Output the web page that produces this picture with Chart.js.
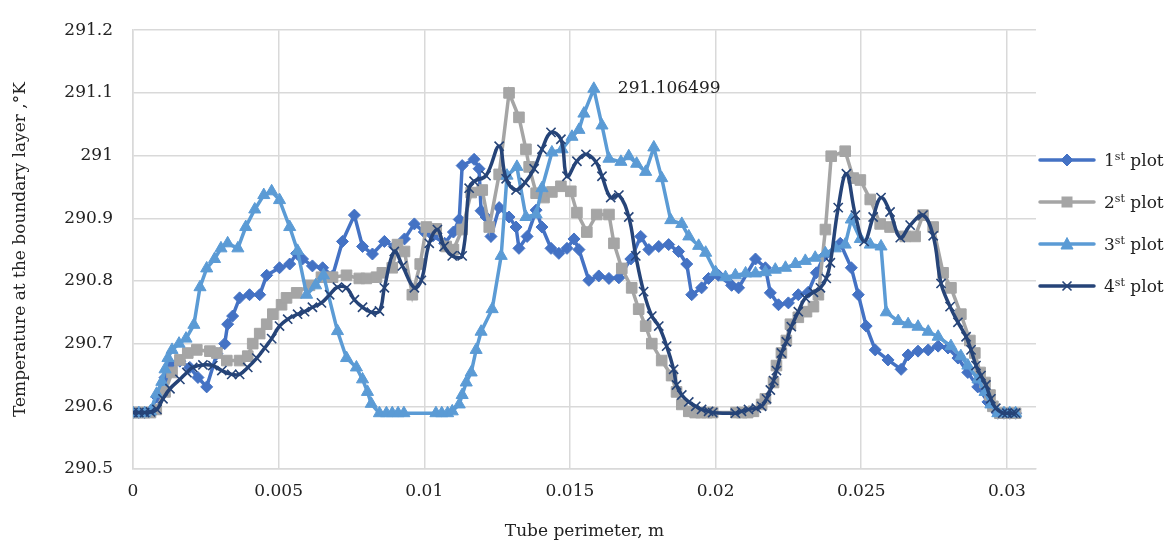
<!DOCTYPE html>
<html>
<head>
<meta charset="utf-8">
<script src="https://cdn.jsdelivr.net/npm/chart.js@4.4.0/dist/chart.umd.min.js"></script>
<style>
body { margin: 0; background: #fff; }
#wrap { position: relative; width: 1176px; height: 546px; }
#legend { position: absolute; left: 1038px; top: 139px; font-family: 'DejaVu Serif', serif; font-size: 17px; color: #222; }
.item { display: flex; align-items: center; height: 42px; white-space: nowrap; }
.item svg { margin-right: 8px; }
sup { font-size: 11px; vertical-align: 6px; line-height: 0; }
</style>
</head>
<body>
<div id="wrap">
  <canvas id="c" width="1176" height="546"></canvas>
  <div id="legend"></div>
</div>
<script>
'use strict'

// [tube perimeter (m), temperature (K)]
const plot1 = [
    [0, 290.59], [0.0002, 290.59], [0.0004, 290.59], [0.0006, 290.592], [0.00082, 290.615], [0.0011, 290.646],
    [0.00134, 290.666], [0.00161, 290.672], [0.00195, 290.662], [0.00223, 290.646], [0.00253, 290.631], [0.00288, 290.684],
    [0.00315, 290.7], [0.00325, 290.731], [0.00342, 290.744], [0.00366, 290.773], [0.004, 290.778], [0.00435, 290.778],
    [0.00459, 290.809], [0.00503, 290.821], [0.00538, 290.827], [0.00562, 290.844], [0.00582, 290.835], [0.00616, 290.824],
    [0.00651, 290.821], [0.00685, 290.808], [0.00719, 290.863], [0.0076, 290.905], [0.00788, 290.855], [0.00822, 290.843],
    [0.00863, 290.863], [0.00897, 290.855], [0.00932, 290.867], [0.00966, 290.891], [0.01, 290.878], [0.0103, 290.872],
    [0.0107, 290.86], [0.011, 290.878], [0.0112, 290.898], [0.0113, 290.984], [0.01171, 290.994], [0.01188, 290.979],
    [0.01195, 290.912], [0.01212, 290.902], [0.01229, 290.871], [0.01257, 290.917], [0.01291, 290.902], [0.01315, 290.886],
    [0.01325, 290.852], [0.01353, 290.871], [0.01384, 290.913], [0.01404, 290.886], [0.01435, 290.852], [0.01462, 290.844],
    [0.0149, 290.852], [0.01514, 290.867], [0.01531, 290.85], [0.01565, 290.801], [0.01599, 290.808], [0.01634, 290.804],
    [0.01668, 290.805], [0.01709, 290.835], [0.01743, 290.871], [0.01771, 290.85], [0.01805, 290.855], [0.01839, 290.858],
    [0.01873, 290.847], [0.01901, 290.827], [0.01918, 290.778], [0.01952, 290.789], [0.01976, 290.804], [0.0201, 290.809],
    [0.02055, 290.793], [0.02079, 290.789], [0.02137, 290.835], [0.02171, 290.821], [0.02188, 290.781], [0.02216, 290.762],
    [0.0225, 290.765], [0.02284, 290.778], [0.02318, 290.782], [0.02346, 290.813], [0.02373, 290.84], [0.02428, 290.86],
    [0.02466, 290.821], [0.0249, 290.778], [0.02517, 290.728], [0.02548, 290.69], [0.02592, 290.674], [0.02637, 290.659],
    [0.02661, 290.682], [0.02695, 290.688], [0.0273, 290.69], [0.02764, 290.696], [0.02798, 290.693], [0.02832, 290.677],
    [0.02866, 290.654], [0.029, 290.631], [0.02935, 290.607], [0.02969, 290.589], [0.0299, 290.589], [0.0301, 290.589],
    [0.0303, 290.589]
]

const plot2 = [
    [0, 290.59], [0.0002, 290.59], [0.0004, 290.59], [0.0006, 290.59], [0.0008, 290.595], [0.0011, 290.623],
    [0.00134, 290.654], [0.00161, 290.674], [0.00188, 290.685], [0.00219, 290.69], [0.00264, 290.688], [0.00288, 290.685],
    [0.00322, 290.673], [0.00366, 290.673], [0.00394, 290.68], [0.00411, 290.7], [0.00435, 290.716], [0.00459, 290.731],
    [0.0048, 290.747], [0.0051, 290.762], [0.00527, 290.773], [0.00562, 290.781], [0.00606, 290.793], [0.00647, 290.806],
    [0.00685, 290.806], [0.00733, 290.809], [0.00777, 290.804], [0.00801, 290.804], [0.00836, 290.806], [0.00856, 290.813],
    [0.0089, 290.821], [0.00908, 290.858], [0.00932, 290.847], [0.00959, 290.778], [0.00986, 290.827], [0.01007, 290.886],
    [0.01041, 290.883], [0.01075, 290.855], [0.011, 290.85], [0.0113, 290.882], [0.01161, 290.941], [0.01199, 290.945],
    [0.01223, 290.886], [0.01257, 290.97], [0.01291, 291.1], [0.01325, 291.061], [0.01349, 291.01], [0.0136, 290.982],
    [0.01384, 290.94], [0.01411, 290.933], [0.01438, 290.942], [0.01469, 290.951], [0.01503, 290.943], [0.01524, 290.909],
    [0.01558, 290.878], [0.01592, 290.906], [0.01634, 290.906], [0.01651, 290.86], [0.01678, 290.82], [0.01712, 290.789],
    [0.01736, 290.755], [0.0176, 290.728], [0.01781, 290.7], [0.01815, 290.673], [0.01849, 290.649], [0.01866, 290.623],
    [0.01884, 290.603], [0.01908, 290.592], [0.0193, 290.59], [0.0195, 290.59], [0.0197, 290.59], [0.0199, 290.59],
    [0.0207, 290.59], [0.0209, 290.59], [0.0211, 290.59], [0.0213, 290.592], [0.02158, 290.603], [0.02171, 290.612],
    [0.02199, 290.638], [0.02209, 290.665], [0.02226, 290.685], [0.02243, 290.705], [0.02257, 290.731], [0.02284, 290.742],
    [0.02312, 290.751], [0.02336, 290.759], [0.02353, 290.778], [0.02377, 290.882], [0.02397, 290.999], [0.02445, 291.007],
    [0.02473, 290.964], [0.02497, 290.961], [0.02531, 290.93], [0.02565, 290.891], [0.02599, 290.886], [0.02651, 290.871],
    [0.02685, 290.871], [0.02712, 290.905], [0.02747, 290.886], [0.02781, 290.813], [0.02808, 290.789], [0.02842, 290.747],
    [0.02873, 290.705], [0.0289, 290.685], [0.02908, 290.654], [0.02925, 290.638], [0.02942, 290.618], [0.02952, 290.6],
    [0.02976, 290.589], [0.0299, 290.589], [0.0301, 290.589], [0.0303, 290.589]
]

const plot3 = [
    [0, 290.589], [0.0002, 290.589], [0.0004, 290.589], [0.0006, 290.592], [0.00081, 290.62], [0.00099, 290.639],
    [0.0011, 290.659], [0.0012, 290.677], [0.00134, 290.69], [0.00158, 290.7], [0.00182, 290.708], [0.00209, 290.73],
    [0.0023, 290.79], [0.00253, 290.82], [0.0028, 290.835], [0.00302, 290.852], [0.00325, 290.86], [0.0036, 290.852],
    [0.00387, 290.886], [0.00418, 290.914], [0.00449, 290.937], [0.00476, 290.943], [0.00503, 290.929], [0.00538, 290.886],
    [0.00565, 290.848], [0.00596, 290.778], [0.00627, 290.793], [0.00654, 290.809], [0.00702, 290.72], [0.00733, 290.677],
    [0.00767, 290.662], [0.00788, 290.643], [0.00805, 290.623], [0.00818, 290.604], [0.00846, 290.589], [0.0087, 290.589],
    [0.0089, 290.589], [0.0091, 290.589], [0.0093, 290.589], [0.0104, 290.589], [0.0106, 290.589], [0.0108, 290.589],
    [0.01096, 290.592], [0.0112, 290.603], [0.0113, 290.618], [0.01144, 290.638], [0.01161, 290.654], [0.01178, 290.69],
    [0.01195, 290.719], [0.01233, 290.755], [0.01264, 290.84], [0.01284, 290.968], [0.01318, 290.982], [0.01349, 290.902],
    [0.01384, 290.906], [0.01404, 290.948], [0.01438, 291.005], [0.01473, 291.01], [0.01507, 291.03], [0.01531, 291.041],
    [0.01548, 291.067], [0.01582, 291.106499], [0.0161, 291.048], [0.01634, 290.995], [0.01675, 290.99], [0.01702, 290.999],
    [0.01729, 290.987], [0.0176, 290.974], [0.01788, 291.013], [0.01815, 290.964], [0.01846, 290.897], [0.01884, 290.891],
    [0.01908, 290.871], [0.01942, 290.856], [0.01966, 290.845], [0.02, 290.814], [0.02034, 290.806], [0.02068, 290.809],
    [0.02103, 290.812], [0.02137, 290.812], [0.02171, 290.814], [0.02205, 290.818], [0.0224, 290.821], [0.02274, 290.827],
    [0.02308, 290.832], [0.02342, 290.837], [0.02377, 290.844], [0.02411, 290.852], [0.02445, 290.858], [0.02466, 290.898],
    [0.02497, 290.867], [0.02531, 290.858], [0.02568, 290.855], [0.02586, 290.75], [0.02627, 290.736], [0.02661, 290.731],
    [0.02695, 290.727], [0.0273, 290.719], [0.02764, 290.711], [0.02808, 290.696], [0.02842, 290.68], [0.02866, 290.665],
    [0.02901, 290.643], [0.02925, 290.623], [0.02945, 290.603], [0.02969, 290.589], [0.0299, 290.589], [0.0301, 290.589],
    [0.0303, 290.589]
]

const plot4 = [
    [0, 290.59], [0.0002, 290.59], [0.0004, 290.59], [0.0006, 290.591], [0.00082, 290.595], [0.00103, 290.612],
    [0.00127, 290.628], [0.00161, 290.643], [0.00185, 290.654], [0.00205, 290.662], [0.0024, 290.666], [0.00274, 290.665],
    [0.00305, 290.657], [0.00339, 290.651], [0.00366, 290.651], [0.00394, 290.662], [0.00425, 290.677], [0.00452, 290.693],
    [0.00476, 290.708], [0.00503, 290.728], [0.00531, 290.739], [0.00565, 290.747], [0.00589, 290.751], [0.00616, 290.758],
    [0.00647, 290.765], [0.00675, 290.778], [0.00702, 290.79], [0.00733, 290.789], [0.0076, 290.77], [0.00788, 290.758],
    [0.00818, 290.75], [0.00846, 290.752], [0.00863, 290.789], [0.00897, 290.847], [0.00925, 290.824], [0.00966, 290.789],
    [0.0099, 290.801], [0.01017, 290.86], [0.01045, 290.882], [0.01068, 290.855], [0.01096, 290.84], [0.0113, 290.84],
    [0.01154, 290.948], [0.01171, 290.959], [0.01212, 290.968], [0.01257, 291.015], [0.01281, 290.963], [0.01315, 290.945],
    [0.01346, 290.957], [0.01377, 290.979], [0.01404, 291.01], [0.01435, 291.037], [0.01469, 291.026], [0.0149, 290.967],
    [0.01524, 290.991], [0.01555, 291.002], [0.01589, 290.99], [0.0161, 290.967], [0.0164, 290.933], [0.01668, 290.937],
    [0.01702, 290.902], [0.01726, 290.84], [0.01753, 290.783], [0.01781, 290.744], [0.01805, 290.728], [0.01832, 290.696],
    [0.01856, 290.659], [0.01866, 290.634], [0.01884, 290.618], [0.01908, 290.607], [0.01932, 290.6], [0.01952, 290.595],
    [0.01976, 290.592], [0.0199, 290.59], [0.02068, 290.589], [0.02089, 290.592], [0.02113, 290.595], [0.0214, 290.597],
    [0.02158, 290.6], [0.02175, 290.612], [0.02188, 290.626], [0.02199, 290.641], [0.02209, 290.657], [0.02226, 290.685],
    [0.02243, 290.703], [0.0226, 290.727], [0.02284, 290.751], [0.02308, 290.773], [0.02336, 290.782], [0.0236, 290.789],
    [0.0238, 290.804], [0.02394, 290.829], [0.02421, 290.917], [0.02449, 290.971], [0.0248, 290.905], [0.0251, 290.863],
    [0.02541, 290.902], [0.02568, 290.933], [0.02599, 290.91], [0.02634, 290.869], [0.02668, 290.889], [0.02712, 290.905],
    [0.02747, 290.872], [0.02774, 290.796], [0.02805, 290.759], [0.02832, 290.734], [0.0286, 290.711], [0.02877, 290.69],
    [0.02894, 290.665], [0.02911, 290.649], [0.02928, 290.634], [0.02945, 290.612], [0.02962, 290.597], [0.02986, 290.589],
    [0.03, 290.589], [0.0302, 290.589], [0.0303, 290.589]
]

const seriesNames = ['1', '2', '3', '4']
const seriesColors = ['#4472C4', '#A5A5A5', '#5B9BD5', '#264478']
const xTicks = [0, 0.005, 0.01, 0.015, 0.02, 0.025, 0.03]
const yTicks = [290.5, 290.6, 290.7, 290.8, 290.9, 291, 291.1, 291.2]

const FONT = "'DejaVu Serif', serif"
const TEXT = '#222222'
const GRID = '#d9d9d9'

const toXY = (pairs) => pairs.map((p) => ({ x: p[0], y: p[1] }))

const peakLabel = {
    id: 'peakLabel',
    afterDatasetsDraw: function (chart) {
        const ys = plot3.map((p) => p[1])
        const i = ys.indexOf(Math.max(...ys))
        const pt = chart.getDatasetMeta(2).data[i]
        const ctx = chart.ctx
        ctx.save()
        ctx.font = '17px ' + FONT
        ctx.fillStyle = TEXT
        ctx.textBaseline = 'middle'
        ctx.textAlign = 'left'
        ctx.fillText(String(plot3[i][1]), pt.x + 24, pt.y)
        ctx.restore()
    }
}

const base = (i) => ({
    label: seriesNames[i] + 'st plot',
    borderColor: seriesColors[i],
    backgroundColor: seriesColors[i],
    pointBackgroundColor: seriesColors[i],
    pointBorderColor: seriesColors[i],
    borderWidth: 3.5,
    pointBorderWidth: 1,
    showLine: true,
    order: 4 - i
})

const chart = new Chart(document.getElementById('c'), {
    type: 'scatter',
    data: {
        datasets: [
            Object.assign(base(0), { data: toXY(plot1), pointStyle: 'rectRot', pointRadius: 6 }),
            Object.assign(base(1), { data: toXY(plot2), pointStyle: 'rect', pointRadius: 7.5 }),
            Object.assign(base(2), { data: toXY(plot3), pointStyle: 'triangle', pointRadius: 7 }),
            Object.assign(base(3), { data: toXY(plot4), pointStyle: 'crossRot', pointRadius: 6.5, pointBorderWidth: 1.6, tension: 0.4 })
        ]
    },
    options: {
        responsive: false,
        animation: false,
        devicePixelRatio: 1,
        layout: { padding: { left: 6, right: 140, top: 17, bottom: 0 } },
        plugins: { legend: { display: false }, tooltip: { enabled: false } },
        scales: {
            x: {
                type: 'linear',
                min: 0,
                max: 0.031,
                afterFit: (s) => { s.height = 77 },
                afterBuildTicks: (s) => { s.ticks = xTicks.map((v) => ({ value: v })) },
                ticks: {
                    padding: 12,
                    maxRotation: 0,
                    autoSkip: false,
                    color: TEXT,
                    font: { family: FONT, size: 17 },
                    callback: (v) => String(+Number(v).toFixed(4))
                },
                grid: { color: GRID, lineWidth: 1.5, drawTicks: false },
                border: { color: GRID, width: 1.5 },
                title: {
                    display: true,
                    text: 'Tube perimeter, m',
                    color: TEXT,
                    font: { family: FONT, size: 17 },
                    padding: { top: 4, bottom: 4 }
                }
            },
            y: {
                min: 290.5,
                max: 291.2,
                afterFit: (s) => { s.width = 127 },
                afterBuildTicks: (s) => { s.ticks = yTicks.map((v) => ({ value: v })) },
                ticks: {
                    padding: 20,
                    color: TEXT,
                    font: { family: FONT, size: 17 },
                    callback: (v) => String(+Number(v).toFixed(1))
                },
                grid: { color: GRID, lineWidth: 1.5, drawTicks: false },
                border: { color: GRID, width: 1.5 },
                title: {
                    display: true,
                    text: 'Temperature at the boundary layer ,\u00B0K',
                    color: TEXT,
                    font: { family: FONT, size: 17 },
                    padding: { top: 4, bottom: 4 }
                }
            }
        }
    },
    plugins: [peakLabel]
})

// legend with superscripts, built as HTML
const markerSvg = [
    '<polygon points="29,4 35,10 29,16 23,10"/>',
    '<rect x="24" y="5" width="10" height="10"/>',
    '<polygon points="29,3.5 35,15 23,15"/>',
    '<path d="M24.5,5.5 L33.5,14.5 M33.5,5.5 L24.5,14.5" stroke-width="1.6" fill="none"/>'
]
document.getElementById('legend').innerHTML = seriesNames.map((n, i) => {
    const c = seriesColors[i]
    return '<div class="item"><svg width="58" height="20">' +
        '<line x1="2" y1="10" x2="56" y2="10" stroke="' + c + '" stroke-width="3.5" stroke-linecap="round"/>' +
        '<g fill="' + c + '" stroke="' + c + '">' + markerSvg[i] + '</g></svg>' +
        '<span>' + n + '<sup>st</sup> plot</span></div>'
}).join('')
</script>
</body>
</html>
